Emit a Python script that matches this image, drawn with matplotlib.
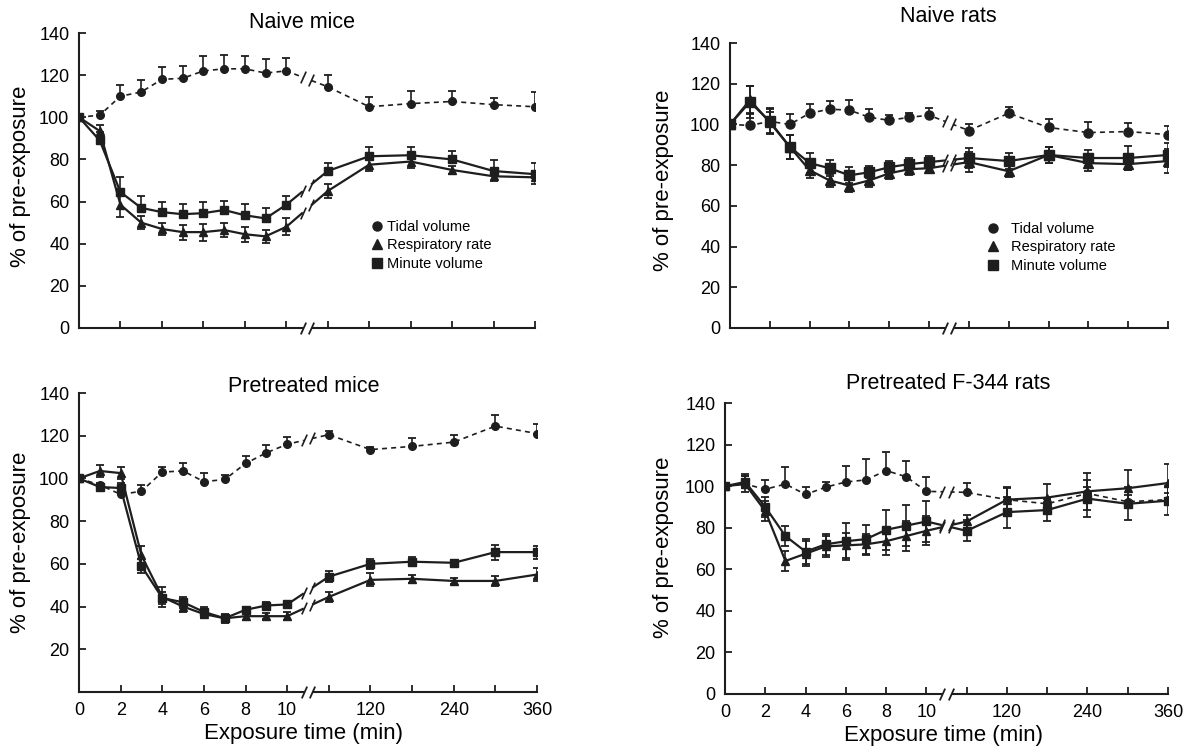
import numpy as np
import matplotlib.pyplot as plt
from matplotlib.lines import Line2D

plt.rcParams['font.family'] = ['Liberation Sans', 'DejaVu Sans']

INK = '#1e1e1e'

# exposure times (min); 60..360 sit on a compressed scale after the break
minutes = [0, 1, 2, 3, 4, 5, 6, 7, 8, 9, 10, 60, 120, 180, 240, 300, 360]
tick_minutes = [0, 2, 4, 6, 8, 10, 60, 120, 180, 240, 300, 360]
tick_labels = ['0', '2', '4', '6', '8', '10', '', '120', '', '240', '', '360']

# Naive mice
nm_tv = [100, 101, 110, 112, 118, 118.5, 122, 123, 123, 121, 122, 114.5, 105, 106.5, 107.5, 106, 105]
nm_tv_err = [0, 2, 5.5, 5.5, 6, 6, 7, 6.5, 6, 6.5, 6, 5.5, 4.5, 6, 5, 3, 7]
nm_rr = [100, 93.5, 58.5, 50, 47, 45.5, 45.5, 46.5, 44.5, 43.5, 48, 65, 77.5, 79, 75, 72, 71.5]
nm_rr_err = [0, 3, 6, 3, 3, 3.5, 4, 3.5, 3.5, 3, 4, 3.5, 3, 3, 2, 2, 3]
nm_mv = [100, 89, 64.5, 57, 55, 54, 54.5, 56, 53.5, 52, 58.5, 74.5, 81.5, 82, 80, 74.5, 73]
nm_mv_err = [0, 4, 7, 5.5, 5, 5, 5.5, 4.5, 5.5, 5, 4, 4, 4.5, 4, 4, 5, 5.5]

# Naive rats
nr_tv = [100, 99.5, 101.5, 100, 105.5, 107.5, 107, 103.5, 102, 103.5, 104.5, 97, 105.5, 98.5, 96, 96.5, 95]
nr_tv_err = [0, 6, 6.5, 5, 4.5, 4, 5, 4, 2.5, 2, 3.5, 3, 3, 4, 5, 4, 4]
nr_rr = [100, 112, 101, 89, 77.5, 72.5, 70, 72.5, 76, 78, 78.5, 81.5, 77, 85, 81, 80.5, 82]
nr_rr_err = [0, 7, 5, 6, 4, 3, 3, 3, 3, 3, 2, 5, 3, 4, 4, 3, 6]
nr_mv = [100, 111, 101.5, 89, 81, 78.5, 75, 76.5, 79, 80.5, 81.5, 83.5, 82, 85, 83.5, 83.5, 85]
nr_mv_err = [0, 8, 6, 6, 5, 4, 4, 3, 3, 3, 3, 5, 4, 4, 4, 6, 6]

# Pretreated mice
pm_tv = [100, 97, 92.5, 94, 103, 103.5, 98.5, 99.5, 107, 112, 116, 120.5, 113.5, 115, 117, 124.5, 121]
pm_tv_err = [0, 0, 0, 3, 2.5, 3.5, 4, 2, 3.5, 3.5, 3.5, 1.5, 1, 4, 3.5, 5, 4.5]
pm_rr = [100, 103.5, 102.5, 64, 44.5, 40, 36.5, 34.5, 35.5, 35.5, 35.5, 44.5, 52.5, 53, 52, 52, 55]
pm_rr_err = [0, 3, 3, 4.5, 4.5, 2.5, 2, 1.5, 2, 1.5, 2, 2.5, 3, 2, 1.5, 2.5, 3]
pm_mv = [100, 96, 95.5, 59, 44, 42, 37.5, 34.5, 38.5, 40.5, 41, 54, 60, 61, 60.5, 65.5, 65.5]
pm_mv_err = [0, 2, 2.5, 3.5, 3, 2.5, 2.5, 2, 1.5, 1.5, 1, 2.5, 2.5, 2, 1.5, 3.5, 3]

# Pretreated F-344 rats
pr_tv = [100, 101, 98.5, 101, 96, 99.5, 102, 103, 107.5, 104.5, 97.5, 97, 93.5, 91.5, 96.5, 92.5, 93.5]
pr_tv_err = [0, 5, 4.5, 8, 3.5, 2.5, 7.5, 10, 9, 7.5, 7, 4.5, 5.5, 3, 3, 3, 3]
pr_rr = [100, 101, 88, 64, 67.5, 71, 71.5, 72, 73.5, 76, 78.5, 83, 93.5, 94.5, 97.5, 99, 101.5]
pr_rr_err = [0, 4, 5, 5, 6, 5, 6, 5, 6.5, 7, 7, 3, 6, 6.5, 9, 9, 9]
pr_mv = [100, 102, 90, 76, 68.5, 72, 73.5, 74.5, 79, 81, 83, 78.5, 87.5, 88.5, 94, 91.5, 93]
pr_mv_err = [0, 3, 5, 5, 6, 5, 9, 7, 9.5, 10, 10, 5, 7.5, 5.5, 9, 8, 7]

titles = ['Naive mice', 'Naive rats', 'Pretreated mice', 'Pretreated F-344 rats']
legend_labels = ['Tidal volume', 'Respiratory rate', 'Minute volume']


def fwd(t):
    t = np.asarray(t, dtype=float)
    return np.where(t <= 10, t, np.where(t <= 60, 10 + (t - 10) / 25, 10 + t / 30))


def inv(p):
    p = np.asarray(p, dtype=float)
    return np.where(p <= 10, p, np.where(p <= 12, 10 + (p - 10) * 25, (p - 10) * 30))


SLASH = [(-0.45, -1), (0.45, 1)]
GAP = (30, 40)  # minutes on either side of the break


def draw_series(ax, vals, errs, marker, ls, up_only, ms):
    t = np.array(minutes, dtype=float)
    y = np.array(vals, dtype=float)
    e = np.array(errs, dtype=float)
    lo = np.zeros_like(e) if up_only else e
    m = e > 0
    ax.vlines(t[m], (y - lo)[m], (y + e)[m], color=INK, lw=1.2, zorder=2)
    ax.plot(t[m], (y + e)[m], ls='none', marker='_', ms=5.5, mew=1.3, color=INK, zorder=2)
    if not up_only:
        ax.plot(t[m], (y - e)[m], ls='none', marker='_', ms=5.5, mew=1.3, color=INK, zorder=2)
    lw = 1.2 if ls != '-' else 1.6
    ax.plot(t, y, ls=ls, lw=lw, color=INK, marker=marker, ms=ms, zorder=3)
    # break in the line between 10 and 60 min
    i = minutes.index(10)
    yb = [y[i] + (y[i + 1] - y[i]) * (float(fwd(g)) - 10) / 2 for g in GAP]
    ax.plot(GAP, yb, color='white', lw=5, solid_capstyle='butt', zorder=4)
    ax.plot(GAP, yb, ls='none', marker=SLASH, ms=8.5, mew=1.2, color=INK, zorder=5)


# axes rectangles in pixels: left, right, top(140), bottom(0)
boxes = [(79, 535, 33, 328), (730, 1168, 43, 328), (79, 537, 393, 692), (725, 1168, 403, 694)]
panels = [
    (nm_tv, nm_tv_err, nm_rr, nm_rr_err, nm_mv, nm_mv_err, True),
    (nr_tv, nr_tv_err, nr_rr, nr_rr_err, nr_mv, nr_mv_err, False),
    (pm_tv, pm_tv_err, pm_rr, pm_rr_err, pm_mv, pm_mv_err, False),
    (pr_tv, pr_tv_err, pr_rr, pr_rr_err, pr_mv, pr_mv_err, False),
]
W, H = 1187, 752
fig = plt.figure(figsize=(W / 100, H / 100), dpi=100)

title_pos = [(302, 28), (948, 22), (304, 392), (948, 389)]
ylab_pos = [(21, 176), (663, 180), (21, 542), (663, 547)]
xlab_pos = [(304, 734), (943, 736)]

for k, (box, pan) in enumerate(zip(boxes, panels)):
    x0, x1, yt, yb = box
    ax = fig.add_axes([x0 / W, 1 - yb / H, (x1 - x0) / W, (yb - yt) / H])
    ax.set_xscale('function', functions=(fwd, inv))
    ax.set_xlim(0, 360)
    ax.set_ylim(0, 140)
    tv, tve, rr, rre, mv, mve, mv_up = pan
    ms = 5.5 if k != 1 else 6.5
    draw_series(ax, tv, tve, 'o', (0, (3, 2.5)), True, ms)
    draw_series(ax, rr, rre, '^', '-', False, ms + 0.5)
    draw_series(ax, mv, mve, 's', '-', mv_up, ms)

    for s in ['top', 'right']:
        ax.spines[s].set_visible(False)
    for s in ['left', 'bottom']:
        ax.spines[s].set_linewidth(1.5)
        ax.spines[s].set_color(INK)
    ax.set_xticks(tick_minutes)
    ax.set_xticks([], minor=True)
    if k >= 2:
        ax.set_xticklabels(tick_labels)
    else:
        ax.set_xticklabels([])
    ax.set_yticks(range(20 if k == 2 else 0, 141, 20))
    ax.tick_params(direction='in', length=5, width=1.3, color=INK, labelsize=13, pad=7)

    # axis break
    xt = ax.get_xaxis_transform()
    ax.plot(GAP, [0, 0], transform=xt, color='white', lw=5, solid_capstyle='butt',
            clip_on=False, zorder=6)
    ax.plot(GAP, [0, 0], transform=xt, ls='none', marker=SLASH, ms=8.5, mew=1.3,
            color=INK, clip_on=False, zorder=7)

    tx, ty = title_pos[k]
    fig.text(tx / W, 1 - ty / H, titles[k], ha='center', va='baseline', fontsize=15.5)
    lx, ly = ylab_pos[k]
    fig.text(lx / W, 1 - ly / H, '% of pre-exposure', rotation=90, ha='center', va='center',
             fontsize=16)

    if k < 2:
        handles = [Line2D([], [], ls='none', marker=mk, color=INK, ms=6.5, label=lb)
                   for mk, lb in zip(['o', '^', 's'], legend_labels)]
        anchor = (372, 220) if k == 0 else (988, 222)
        ax.legend(handles=handles, loc='upper left', bbox_to_anchor=(anchor[0] / W, 1 - anchor[1] / H),
                  bbox_transform=fig.transFigure, frameon=False, fontsize=10.5,
                  handlelength=0.7, handletextpad=0.35 if k == 0 else 0.9,
                  labelspacing=0.3, borderpad=0, borderaxespad=0)

for lx, ly in xlab_pos:
    fig.text(lx / W, 1 - ly / H, 'Exposure time (min)', ha='center', va='center', fontsize=16)

fig.savefig('out.png', dpi=100)
